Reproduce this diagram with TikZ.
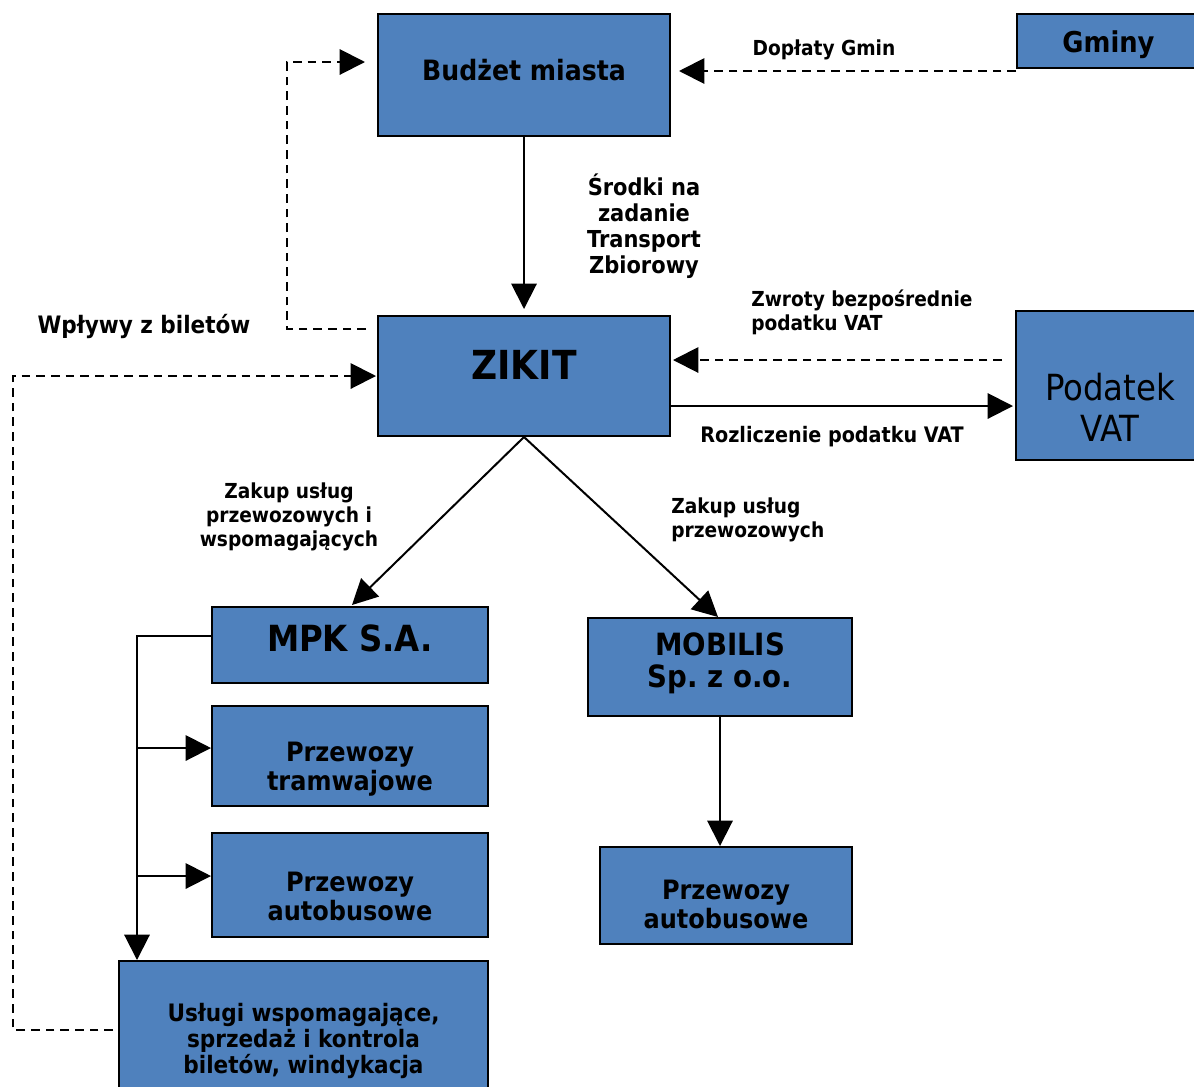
\documentclass[tikz,border=0pt]{standalone}
\usepackage{fontspec}
\setmainfont{DejaVu Sans Condensed}
\usetikzlibrary{arrows.meta,calc}
\definecolor{boxblue}{HTML}{4F81BD}
\frenchspacing
\begin{document}
\begin{tikzpicture}[x=0.75pt,y=-0.75pt,
  box/.style={draw=black, line width=1.5pt, fill=boxblue, inner sep=0pt},
  btxt/.style 2 args={font=\bfseries\fontsize{#1}{#2}\selectfont, align=center, inner sep=0pt},
  conn/.style={line width=1.5pt, -{Triangle[length=19pt,width=19pt]}},
  dconn/.style={conn, dash pattern=on 6.5pt off 4.5pt},
  lbl/.style={font=\bfseries\fontsize{15.5pt}{18pt}\selectfont, inner sep=0pt}]
\useasboundingbox (0,0) rectangle (1194,1086);
% boxes
\node[box, minimum width=219pt, minimum height=91.5pt,
  label={[name=tbud, btxt={21pt}{24pt}, yshift=3.75pt]center:Budżet miasta}] (budzet) at (524,75) {};
\node[box, minimum width=137.25pt, minimum height=40.5pt,
  label={[name=tgm, btxt={21.5pt}{24pt}, yshift=-3pt]center:Gminy}] (gminy) at (1108.5,41) {};
\node[box, minimum width=219pt, minimum height=90pt,
  label={[name=tzik, btxt={30pt}{34pt}, yshift=8.25pt]center:ZIKIT}] (zikit) at (524,376) {};
\node[box, minimum width=141pt, minimum height=111.75pt,
  label={[name=tvat, font=\fontsize{27pt}{30.75pt}\selectfont, align=center, inner sep=0pt, yshift=-16.5pt]center:Podatek\\VAT}] (vat) at (1110,385.5) {};
\node[box, minimum width=207pt, minimum height=57pt,
  label={[name=tmpk, btxt={27pt}{30pt}, yshift=5.25pt]center:MPK S.A.}] (mpk) at (350,645) {};
\node[box, minimum width=207pt, minimum height=75pt,
  label={[name=ttram, btxt={20pt}{21.75pt}, yshift=-9.75pt]center:Przewozy\\tramwajowe}] (tram) at (350,756) {};
\node[box, minimum width=207pt, minimum height=78pt,
  label={[name=tbusl, btxt={20pt}{21.75pt}, yshift=-8.25pt]center:Przewozy\\autobusowe}] (busl) at (350,885) {};
\node[box, minimum width=276.75pt, minimum height=119.25pt,
  label={[name=tusl, btxt={18pt}{19.5pt}]center:Usługi wspomagające,\\sprzedaż i kontrola\\biletów, windykacja}] (usl) at (303.5,1040.5) {};
\node[box, minimum width=198pt, minimum height=73.5pt,
  label={[name=tmob, btxt={23pt}{24pt}, yshift=3pt]center:MOBILIS\\Sp. z o.o.}] (mob) at (720,667) {};
\node[box, minimum width=189pt, minimum height=72.75pt,
  label={[name=tbusr, btxt={20pt}{21.75pt}, yshift=-6.75pt]center:Przewozy\\autobusowe}] (busr) at (726,895.5) {};
% labels
\node[lbl] (ldop) at (824,50) {Dopłaty Gmin};
\node[lbl, align=center, font=\bfseries\fontsize{17.5pt}{19.5pt}\selectfont] (lsro) at (644,226) {Środki na\\zadanie\\Transport\\Zbiorowy};
\node[lbl, font=\bfseries\fontsize{18pt}{20pt}\selectfont] (lwpl) at (144,326) {Wpływy z biletów};
\node[lbl, align=left, anchor=west] (lzwr) at (751,312) {Zwroty bezpośrednie\\podatku VAT};
\node[lbl, font=\bfseries\fontsize{16pt}{18pt}\selectfont] (lroz) at (832,437) {Rozliczenie podatku VAT};
\node[lbl, align=center] (lzak1) at (289,517) {Zakup usług\\przewozowych i\\wspomagających};
\node[lbl, align=left, anchor=west] (lzak2) at (671,520) {Zakup usług\\przewozowych};
% coordinates
\coordinate (lw) at (287,62);
\coordinate (ul) at (13,376);
\coordinate (b1) at (137,636);
% connectors
\draw[conn, shorten >=4.5pt] (budzet.south) -- (zikit.north);
\draw[dconn, shorten >=6pt] ($(gminy.south west)+(0,2)$) -- ($(budzet.east |- gminy.south west)+(0,2)$);
\draw[dconn] ($(zikit.north west)+(-11,14)$) -| (lw) -- ($(budzet.west)+(-12,-13)$);
\draw[dconn] ($(usl.west)+(-5,-10.5)$) -| (ul) -- ($(zikit.west)+(-1,0)$);
\draw[dconn] ($(vat.west)+(-13,-25.5)$) -- ($(zikit.east)+(2,-16)$);
\draw[conn] ($(zikit.east)+(0,30)$) -- ($(vat.west)+(-2,20.5)$);
\draw[conn] (zikit.south) -- ($(mpk.north)+(2,-1)$);
\draw[conn] (zikit.south) -- ($(mob.north)+(-2,0)$);
\draw[conn] ($(mpk.west)+(0,-9)$) -- (b1) -- (b1 |- usl.north);
\draw[conn] (b1 |- 0,748) -- ($(tram.west)+(0,-8)$);
\draw[conn] (b1 |- 0,876) -- ($(busl.west)+(0,-9)$);
\draw[conn] (mob.south) -- (mob.south |- busr.north);
\end{tikzpicture}
\end{document}
